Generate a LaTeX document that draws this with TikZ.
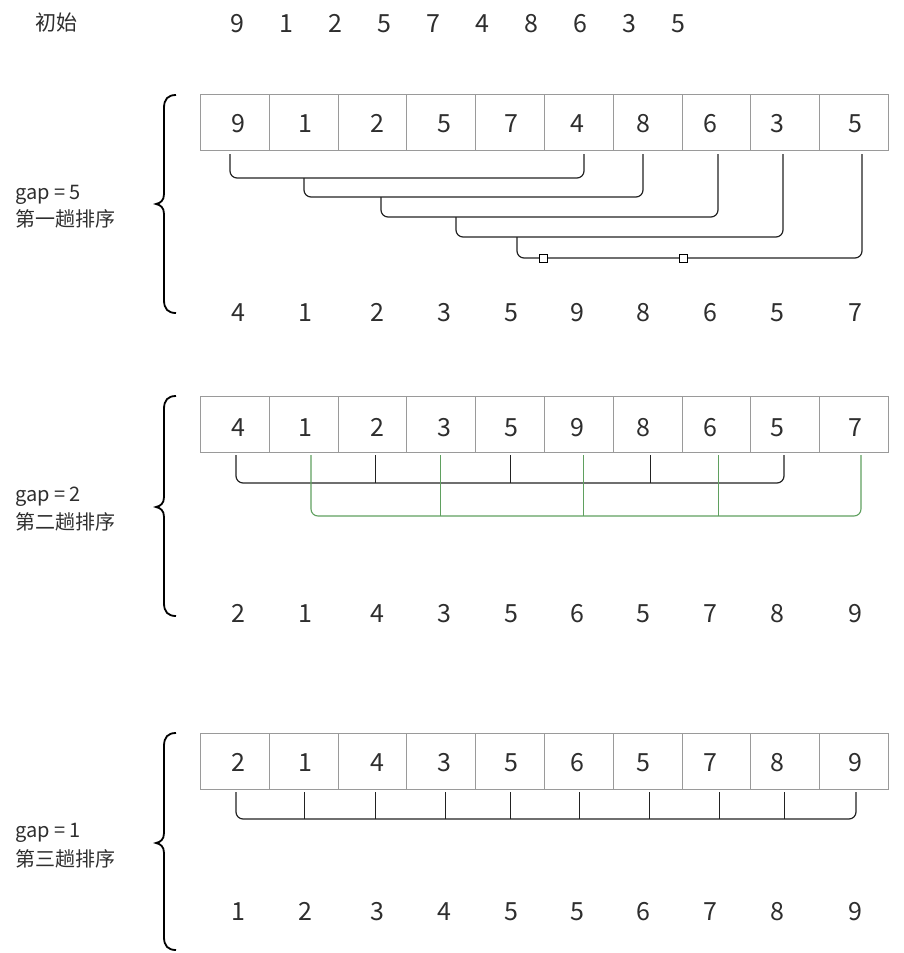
\documentclass[tikz,border=0pt]{standalone}
\usepackage{fontspec}
\setmainfont{Noto Sans CJK SC}
\definecolor{txt}{HTML}{2E2E2E}
\definecolor{boxc}{HTML}{9A9A9A}
\definecolor{grn}{HTML}{5FA05F}
\definecolor{lnk}{HTML}{222222}
\newcommand{\drawbrace}[3]{%
  \draw[brc] (176,#1) .. controls (168,#1) and (164,#1+4) .. (164,#1+13)
    -- (164,#2-10) .. controls (164,#2-4) and (161,#2-1) .. (156,#2)
    .. controls (161,#2+1) and (164,#2+4) .. (164,#2+10)
    -- (164,#3-13) .. controls (164,#3-4) and (168,#3) .. (176,#3);}
\begin{document}
\begin{tikzpicture}[x=1pt,y=-1pt,
  cell/.style={draw=boxc, line width=0.9pt, minimum width=68.8pt, minimum height=56pt, inner sep=0pt, anchor=north west},
  num/.style={font=\fontsize{25}{25}\selectfont, text=txt, inner sep=0pt, text height=18pt, text depth=0pt},
  lbl/.style={font=\fontsize{20}{20}\selectfont, text=txt, inner sep=0pt, anchor=base west},
  conn/.style={line width=1.2pt, rounded corners=7pt, draw=lnk},
  tickl/.style={line width=1pt, draw=lnk},
  gconn/.style={line width=1.1pt, rounded corners=7pt, draw=grn},
  gtick/.style={line width=0.9pt, draw=grn},
  mk/.style={draw=black, fill=white, line width=0.9pt, minimum size=8pt, inner sep=0pt},
  brc/.style={line width=1.8pt, draw=black}
]
\useasboundingbox (0,0) rectangle (903,953);
\def\xs{238,305,377,444,511,577,643,710,777,855}

% initial row
\node[font=\fontsize{21}{21}\selectfont, text=txt, inner sep=0pt] (init) at (56,23) {初始};
\foreach \v [count=\i] in {9,1,2,5,7,4,8,6,3,5}{
  \node[num] (t\i) at ({237+(\i-1)*49.1},23) {\v};
}

% ---------- block 1 ----------
\drawbrace{95}{204}{313}
\node[lbl] (g1) at (15,199) {gap = 5};
\node[lbl] (p1) at (15,226) {第一趟排序};
\foreach \v [count=\i] in {9,1,2,5,7,4,8,6,3,5}{
  \node[cell] (a\i) at ({200+(\i-1)*68.8},94) {};
  \pgfmathsetmacro{\xx}{{\xs}[\i-1]}
  \node[num] (an\i) at (\xx,123) {\v};
}
\foreach \v [count=\i] in {4,1,2,3,5,9,8,6,5,7}{
  \pgfmathsetmacro{\xx}{{\xs}[\i-1]}
  \node[num] (ar\i) at (\xx,312) {\v};
}
\draw[conn] (230,154) -- (230,178) -- (584,178) -- (584,154);
\draw[conn] (304,178) -- (304,197) -- (643,197) -- (643,154);
\draw[conn] (381,197) -- (381,217) -- (718,217) -- (718,154);
\draw[conn] (456,217) -- (456,237) -- (783,237) -- (783,154);
\draw[conn] (517,237) -- (517,258) -- (862,258) -- (862,154);
\node[mk] (m1) at (543,258) {};
\node[mk] (m2) at (683,258) {};

% ---------- block 2 ----------
\drawbrace{396}{507}{616}
\node[lbl] (g2) at (15,501) {gap = 2};
\node[lbl] (p2) at (15,529) {第二趟排序};
\foreach \v [count=\i] in {4,1,2,3,5,9,8,6,5,7}{
  \node[cell] (b\i) at ({200+(\i-1)*68.8},396) {};
  \pgfmathsetmacro{\xx}{{\xs}[\i-1]}
  \node[num] (bn\i) at (\xx,427) {\v};
}
\foreach \v [count=\i] in {2,1,4,3,5,6,5,7,8,9}{
  \pgfmathsetmacro{\xx}{{\xs}[\i-1]}
  \node[num] (br\i) at (\xx,613) {\v};
}
\draw[conn] (236,455) -- (236,483) -- (784,483) -- (784,455);
\foreach \x in {375,510,650}{ \draw[tickl] (\x,455) -- (\x,483); }
\draw[gconn] (311,455) -- (311,516) -- (861,516) -- (861,455);
\foreach \x in {440,583,718}{ \draw[gtick] (\x,455) -- (\x,516); }

% ---------- block 3 ----------
\drawbrace{733}{843}{950}
\node[lbl] (g3) at (15,837) {gap = 1};
\node[lbl] (p3) at (15,866) {第三趟排序};
\foreach \v [count=\i] in {2,1,4,3,5,6,5,7,8,9}{
  \node[cell] (c\i) at ({200+(\i-1)*68.8},733) {};
  \pgfmathsetmacro{\xx}{{\xs}[\i-1]}
  \node[num] (cn\i) at (\xx,762) {\v};
}
\foreach \v [count=\i] in {1,2,3,4,5,5,6,7,8,9}{
  \pgfmathsetmacro{\xx}{{\xs}[\i-1]}
  \node[num] (cr\i) at (\xx,911) {\v};
}
\draw[conn] (236,792) -- (236,819) -- (856,819) -- (856,792);
\foreach \x in {304,375,445,510,579,649,719,784}{ \draw[tickl] (\x,792) -- (\x,819); }
\end{tikzpicture}
\end{document}
